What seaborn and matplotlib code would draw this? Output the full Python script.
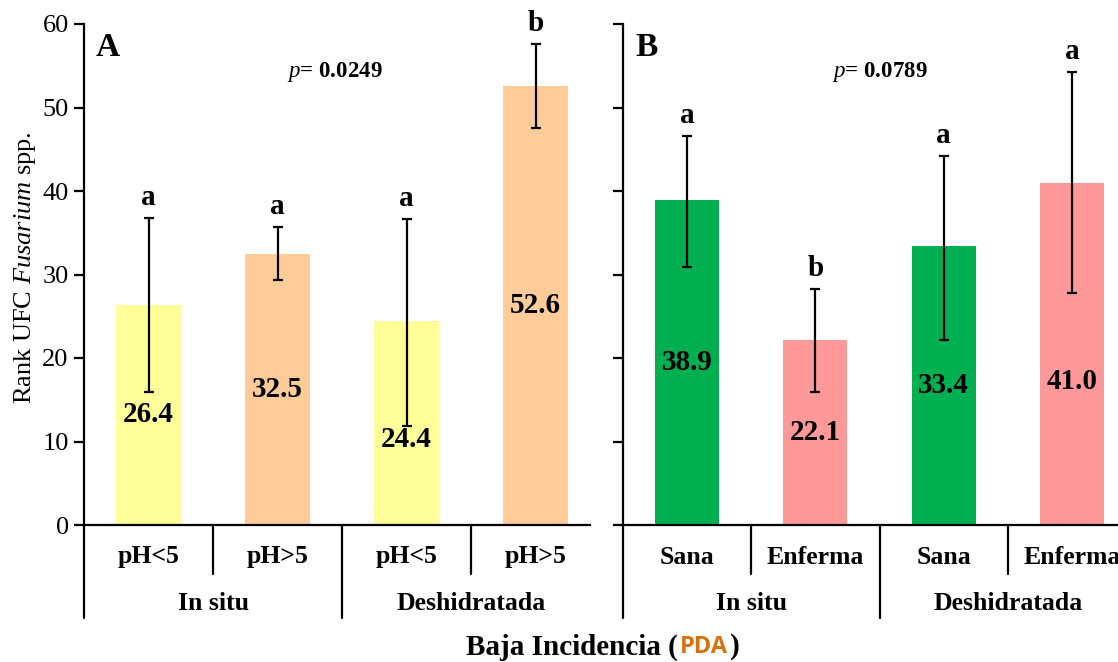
import matplotlib
matplotlib.use("Agg")
import matplotlib.pyplot as plt
import matplotlib.transforms as mtransforms
import seaborn as sns
import pandas as pd
import numpy as np

# ---------------- data ----------------
a_sub = ["pH<5", "pH>5", "pH<5", "pH>5"]
a_grp = ["In situ", "Deshidratada"]
a_vals = [26.4, 32.5, 24.4, 52.6]
a_low = [15.9, 29.3, 11.9, 47.6]
a_high = [36.8, 35.7, 36.7, 57.6]
a_let = ["a", "a", "a", "b"]
a_colors = ["#FFFF99", "#FFCC99", "#FFFF99", "#FFCC99"]
a_p = "0.0249"

b_sub = ["Sana", "Enferma", "Sana", "Enferma"]
b_grp = ["In situ", "Deshidratada"]
b_vals = [38.9, 22.1, 33.4, 41.0]
b_low = [30.9, 15.9, 22.1, 27.8]
b_high = [46.6, 28.3, 44.2, 54.3]
b_let = ["a", "b", "a", "a"]
b_colors = ["#00B050", "#FF9999", "#00B050", "#FF9999"]
b_p = "0.0789"

yticks = [0, 10, 20, 30, 40, 50, 60]

# ---------------- style ----------------
sns.set_theme(style="white")
plt.rcParams["font.family"] = ["Liberation Serif", "DejaVu Serif"]
plt.rcParams["mathtext.fontset"] = "custom"
plt.rcParams["mathtext.it"] = "Liberation Serif:italic"
plt.rcParams["mathtext.rm"] = "Liberation Serif"
plt.rcParams["mathtext.bf"] = "Liberation Serif:bold"
for k in ["text.color", "axes.labelcolor", "xtick.color", "ytick.color", "axes.edgecolor"]:
    plt.rcParams[k] = "black"

W, H = 1118, 662
fig = plt.figure(figsize=(W / 100, H / 100), dpi=100)


def fx(x):
    return x / W


def fy(y):
    return 1 - y / H


y_top, y_bot = 24, 525
ax_h = (y_bot - y_top) / H
axA = fig.add_axes([fx(84), fy(y_bot), (590 - 84) / W, ax_h])
axB = fig.add_axes([fx(623), fy(y_bot), (1136 - 623) / W, ax_h])

LW = 1.6


def draw_panel(ax, sub, grp, vals, low, high, let, colors, show_labels, xmax, label_adj):
    keys = [f"{g}|{s}|{i}" for i, (g, s) in enumerate(zip([grp[0]] * 2 + [grp[1]] * 2, sub))]
    df = pd.DataFrame({"key": keys, "val": vals})
    sns.barplot(data=df, x="key", y="val", hue="key", palette=colors, order=keys,
                hue_order=keys, width=0.5, legend=False, ax=ax, saturation=1,
                edgecolor="none", errorbar=None)
    v = np.array(vals)
    ax.errorbar(np.arange(len(v)), v, yerr=[v - np.array(low), np.array(high) - v],
                fmt="none", ecolor="black", elinewidth=LW, capsize=3.5, capthick=LW,
                zorder=5)
    for i, (val, hi, l) in enumerate(zip(vals, high, let)):
        ax.annotate(l, (i, hi), xytext=(0, 5), textcoords="offset points",
                    ha="center", va="bottom", fontsize=21, fontweight="bold",
                    color="black", zorder=6)
        ax.text(i, val / 2 + label_adj[i], f"{val:.1f}", ha="center", va="center",
                fontsize=21, fontweight="bold", color="black", zorder=6)
    ax.set_ylim(0, 60)
    ax.set_xlim(-0.5, xmax)
    ax.set_yticks(yticks)
    if show_labels:
        ax.set_yticklabels([str(t) for t in yticks], fontsize=19)
    else:
        ax.set_yticklabels([])
    ax.set_xticks([])
    ax.set_xlabel("")
    ax.set_ylabel("")
    for s in ["top", "right"]:
        ax.spines[s].set_visible(False)
    for s in ["left", "bottom"]:
        ax.spines[s].set_color("black")
        ax.spines[s].set_linewidth(LW)
    ax.tick_params(axis="y", direction="out", length=7, width=LW, color="black",
                   labelcolor="black", left=True, pad=4)
    trans = mtransforms.blended_transform_factory(ax.transData, ax.transAxes)
    ah = y_bot - y_top
    short = -(574 - y_bot) / ah
    long_ = -(618 - y_bot) / ah
    for xb in [-0.5, 1.5]:
        ax.plot([xb, xb], [0, long_], transform=trans, color="black", lw=LW, clip_on=False)
    for xb in [0.5, 2.5]:
        ax.plot([xb, xb], [0, short], transform=trans, color="black", lw=LW, clip_on=False)
    for i, s in enumerate(sub):
        ax.text(i, -(557 - y_bot) / ah, s, transform=trans, ha="center", va="center",
                fontsize=18.5, fontweight="bold", color="black")
    for j, g in enumerate(grp):
        ax.text(0.5 + 2 * j, -(604 - y_bot) / ah, g, transform=trans, ha="center",
                va="center", fontsize=18.5, fontweight="bold", color="black")


draw_panel(axA, a_sub, a_grp, a_vals, a_low, a_high, a_let, a_colors, True,
           -0.5 + (590 - 84) / 129, [0, 0, -2.0, 0])
draw_panel(axB, b_sub, b_grp, b_vals, b_low, b_high, b_let, b_colors, False,
           3.5, [0, 0, 0, -3.3])

# panel letters and p values
fig.text(fx(96), fy(47), "A", ha="left", va="center", fontsize=24, fontweight="bold")
fig.text(fx(635), fy(47), "B", ha="left", va="center", fontsize=24, fontweight="bold")
fig.text(fx(335), fy(72), r"$\mathit{p}$= " + a_p, ha="center", va="center",
         fontsize=16.5, fontweight="bold")
fig.text(fx(880), fy(72), r"$\mathit{p}$= " + b_p, ha="center", va="center",
         fontsize=16.5, fontweight="bold")

# y label
fig.text(fx(25), fy(268), r"Rank UFC $\mathit{Fusarium}$ spp.", rotation=90,
         ha="center", va="center", fontsize=19)

# bottom title with coloured PDA
ty = fy(647)
t1 = fig.text(0, ty, "Baja Incidencia (", ha="left", va="center", fontsize=21,
              fontweight="bold")
t2 = fig.text(0, ty, "PDA", ha="left", va="center", fontsize=17, fontweight="bold",
              family=["Open Sans", "Noto Sans", "DejaVu Sans"], color="#D9700D")
t3 = fig.text(0, ty, ")", ha="left", va="center", fontsize=21, fontweight="bold")
fig.canvas.draw()
r = fig.canvas.get_renderer()
w1 = t1.get_window_extent(r).width
w2 = t2.get_window_extent(r).width
w3 = t3.get_window_extent(r).width
total = w1 + w2 + w3 + 4
x0 = 603 - total / 2
t1.set_x(fx(x0))
t2.set_x(fx(x0 + w1 + 2))
t3.set_x(fx(x0 + w1 + w2 + 4))

fig.savefig("out.png", dpi=100)
